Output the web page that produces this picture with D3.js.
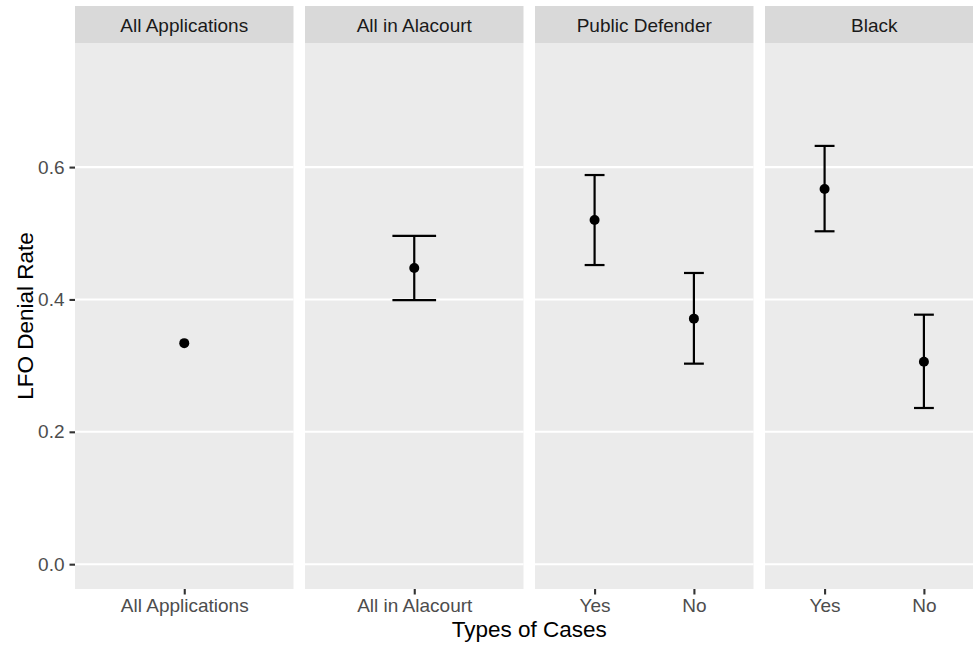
<!DOCTYPE html>
<html>
<head>
<meta charset="utf-8">
<script src="https://cdn.jsdelivr.net/npm/d3@7"></script>
<style>
  body { margin: 0; background: #fff; }
  svg { display: block; font-family: "Liberation Sans", Arial, sans-serif; }
</style>
</head>
<body>
<div id="chart"></div>
<script>
// facets and the cases shown in each one
const panels = ["All Applications", "All in Alacourt", "Public Defender", "Black"]
const panelCases = [["All Applications"], ["All in Alacourt"], ["Yes", "No"], ["Yes", "No"]]

// one row per point
const pointPanel = [0, 1, 2, 2, 3, 3]
const pointCase = ["All Applications", "All in Alacourt", "Yes", "No", "Yes", "No"]
const denialRate = [0.334, 0.4475, 0.520, 0.371, 0.567, 0.306]
const lowerCI = [null, 0.399, 0.452, 0.303, 0.503, 0.236]
const upperCI = [null, 0.496, 0.588, 0.440, 0.632, 0.377]

const yTicks = [0, 0.2, 0.4, 0.6]

const width = 973, height = 647
const panelLeft = 75, panelW = 218.5, gap = 11.5
const stripTop = 6, stripBottom = 43, panelBottom = 589
const capWidth = [0.2, 0.24, 0.2, 0.2]
const tickFont = 19, titleFont = 22.5, tickLen = 5.5

const svg = d3.select("#chart").append("svg")
    .attr("width", width)
    .attr("height", height)

// limits 0..0.75 with ggplot's 5% expansion
const y = d3.scaleLinear()
    .domain([0 - 0.0375, 0.75 + 0.0375])
    .range([panelBottom, stripBottom])

const xScales = panels.map((p, i) => {
    const x0 = panelLeft + i * (panelW + gap)
    return d3.scalePoint().domain(panelCases[i]).range([x0, x0 + panelW]).padding(0.6)
})

panels.forEach((name, i) => {
    const x = xScales[i]
    const [x0, x1] = x.range()
    const g = svg.append("g")

    g.append("rect")
        .attr("x", x0).attr("y", stripTop)
        .attr("width", x1 - x0).attr("height", stripBottom - stripTop)
        .attr("fill", "#d9d9d9")
    g.append("text")
        .attr("x", (x0 + x1) / 2).attr("y", 32)
        .attr("text-anchor", "middle")
        .attr("font-size", tickFont)
        .attr("fill", "#1a1a1a")
        .text(name)

    g.append("rect")
        .attr("x", x0).attr("y", stripBottom)
        .attr("width", x1 - x0).attr("height", panelBottom - stripBottom)
        .attr("fill", "#ebebeb")

    g.selectAll(".grid")
        .data(yTicks)
        .join("line")
        .attr("x1", x0).attr("x2", x1)
        .attr("y1", d => y(d)).attr("y2", d => y(d))
        .attr("stroke", "#fff")
        .attr("stroke-width", 2.1)

    // x axis for this facet
    const xAxis = g.append("g")
        .attr("transform", `translate(0,${panelBottom})`)
        .call(d3.axisBottom(x).tickSize(tickLen).tickSizeOuter(0))
    xAxis.select(".domain").remove()
    xAxis.selectAll("line").attr("stroke", "#333").attr("stroke-width", 2.1)
    xAxis.selectAll("text")
        .attr("y", 22.5)
        .attr("dy", null)
        .attr("fill", "#4d4d4d")
        .attr("font-size", tickFont)
        .attr("font-family", "Liberation Sans, Arial, sans-serif")
})

// error bars and points
const rows = denialRate.map((v, i) => ({
    panel: pointPanel[i], label: pointCase[i], v, lo: lowerCI[i], hi: upperCI[i]
}))

const marks = svg.append("g")
rows.forEach(d => {
    const x = xScales[d.panel]
    const cx = x(d.label)
    if (d.lo != null) {
        const half = capWidth[d.panel] * x.step() / 2
        marks.append("line")
            .attr("x1", cx).attr("x2", cx)
            .attr("y1", y(d.lo)).attr("y2", y(d.hi))
            .attr("stroke", "#000").attr("stroke-width", 2.2)
        ;[d.lo, d.hi].forEach(v => {
            marks.append("line")
                .attr("x1", cx - half).attr("x2", cx + half)
                .attr("y1", y(v)).attr("y2", y(v))
                .attr("stroke", "#000").attr("stroke-width", 2.2)
        })
    }
    marks.append("circle")
        .attr("cx", cx).attr("cy", y(d.v))
        .attr("r", 5)
        .attr("fill", "#000")
})

// y axis
const yAxis = svg.append("g")
    .attr("transform", `translate(${panelLeft},0)`)
    .call(d3.axisLeft(y).tickValues(yTicks).tickFormat(d3.format(".1f")).tickSize(tickLen).tickPadding(5))
yAxis.select(".domain").remove()
yAxis.selectAll("line").attr("stroke", "#333").attr("stroke-width", 2.1)
yAxis.selectAll("text")
    .attr("fill", "#4d4d4d")
    .attr("font-size", tickFont)
    .attr("font-family", "Liberation Sans, Arial, sans-serif")

// axis titles
const plotRight = panelLeft + 4 * panelW + 3 * gap
svg.append("text")
    .attr("x", (panelLeft + plotRight) / 2)
    .attr("y", 637)
    .attr("text-anchor", "middle")
    .attr("font-size", titleFont)
    .attr("fill", "#000")
    .text("Types of Cases")

svg.append("text")
    .attr("transform", `translate(33,${(stripBottom + panelBottom) / 2}) rotate(-90)`)
    .attr("text-anchor", "middle")
    .attr("font-size", titleFont)
    .attr("fill", "#000")
    .text("LFO Denial Rate")
</script>
</body>
</html>
